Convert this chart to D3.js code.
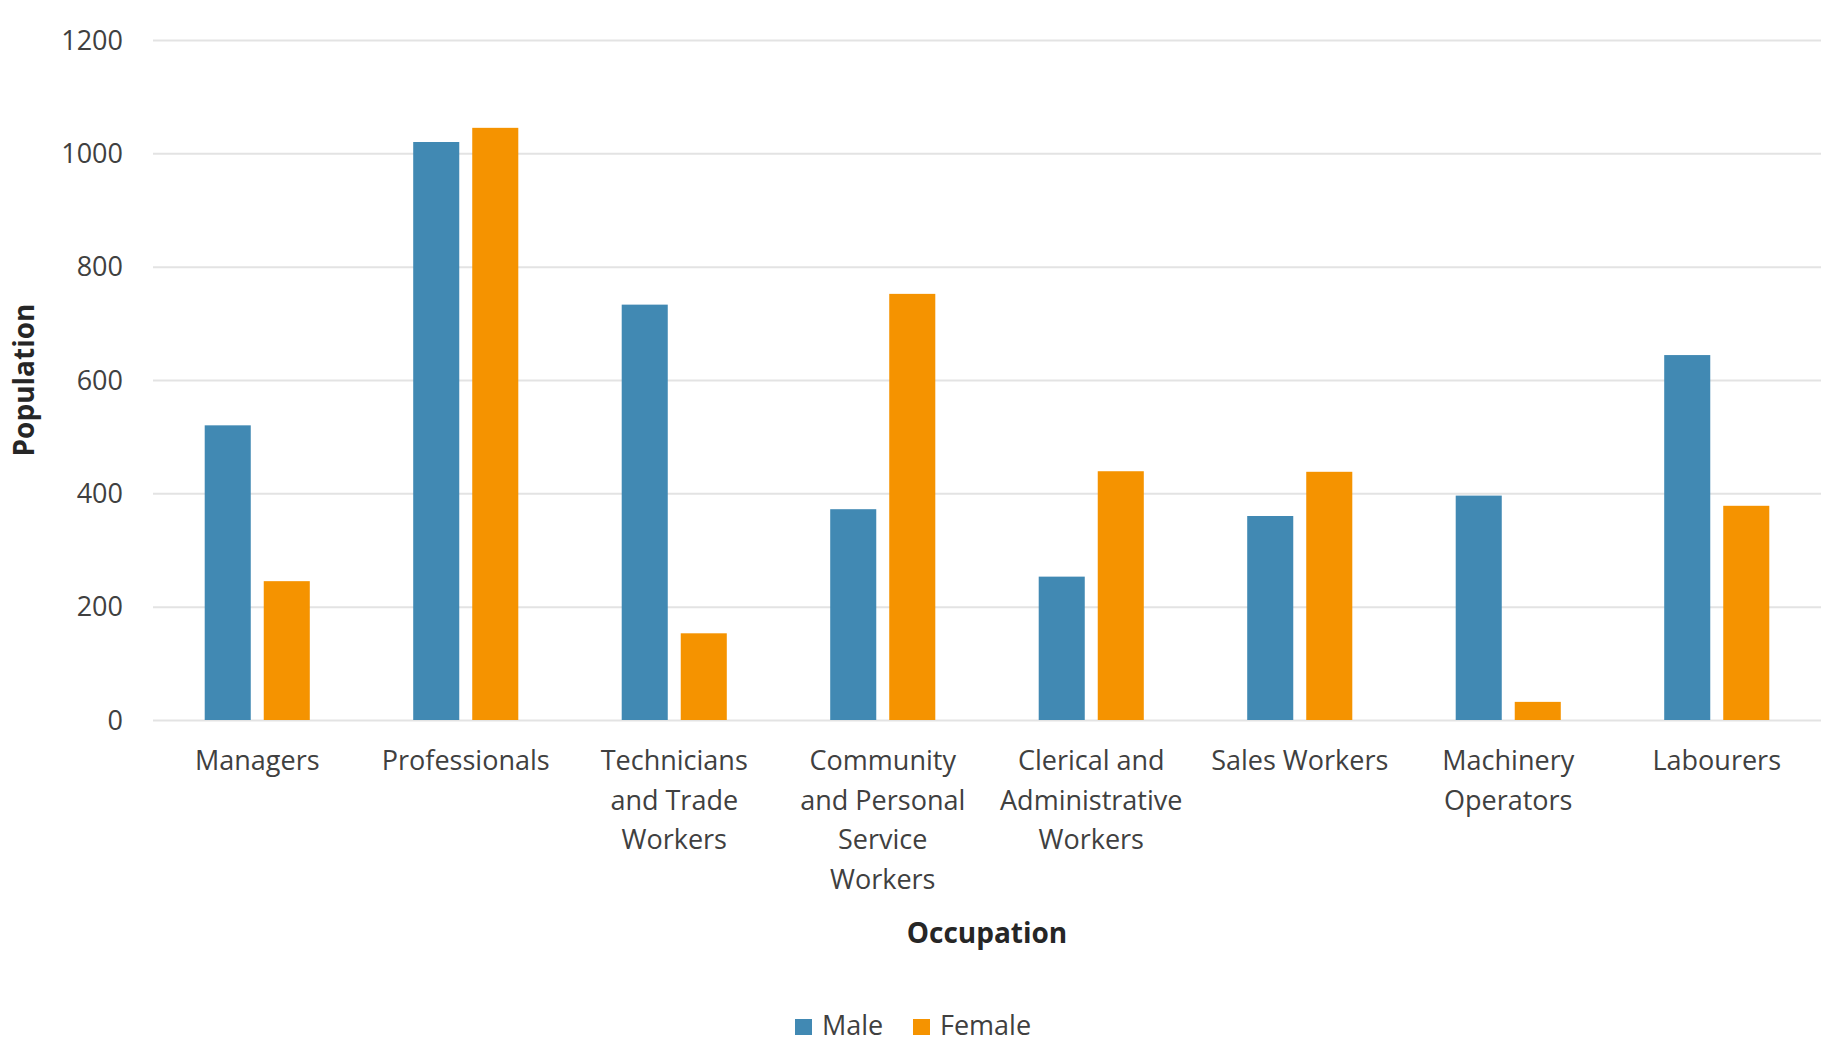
<!DOCTYPE html>
<html>
<head>
<meta charset="utf-8">
<script src="https://cdn.jsdelivr.net/npm/d3@7"></script>
<style>
  body { margin: 0; background: #fff; }
  svg { display: block; font-family: "Open Sans", sans-serif; }
  .tick text { fill: #404040; font-size: 27px; font-family: "Open Sans", sans-serif; }
  .grid line { stroke: #e3e3e3; stroke-width: 2; }
  .title { fill: #262626; font-size: 28px; font-weight: bold; }
  .legend text { fill: #404040; font-size: 27px; }
</style>
</head>
<body>
<svg id="chart"></svg>
<script>
// ---- data ----
const categories = ['Managers', 'Professionals', 'Technicians and Trade Workers',
  'Community and Personal Service Workers', 'Clerical and Administrative Workers',
  'Sales Workers', 'Machinery Operators', 'Labourers'];
const categoryLines = [
  ['Managers'],
  ['Professionals'],
  ['Technicians', 'and Trade', 'Workers'],
  ['Community', 'and Personal', 'Service', 'Workers'],
  ['Clerical and', 'Administrative', 'Workers'],
  ['Sales Workers'],
  ['Machinery', 'Operators'],
  ['Labourers']
];
const series = ['Male', 'Female'];
const male   = [520, 1020, 733, 372, 253, 360, 396, 644];
const female = [245, 1045, 153, 752, 439, 438, 32, 378];
const yTicks = [0, 200, 400, 600, 800, 1000, 1200];
const colors = ['#4189b3', '#f59300'];

const width = 1828, height = 1045;
const margin = {top: 40, right: 7, bottom: 325, left: 153};
const w = width - margin.left - margin.right,
      h = height - margin.top - margin.bottom;

const svg = d3.select('#chart').attr('width', width).attr('height', height);
const g = svg.append('g').attr('transform', `translate(${margin.left},${margin.top})`);

const x = d3.scaleBand().domain(categories).range([0, w]);
const bw = x.bandwidth();
// bar pair sits in the middle half of each band
const x1 = d3.scaleBand().domain(series)
  .range([bw * 0.248, bw * 0.752]).paddingInner(0.22);
const y = d3.scaleLinear().domain([0, 1200]).range([h, 0]);

//-------grid + y labels-------
g.append('g')
  .attr('class', 'grid')
  .call(d3.axisLeft(y).tickValues(yTicks).tickFormat(d3.format('d')).tickSize(-w).tickPadding(30))
  .attr('font-family', null)
  .attr('font-size', null)
  .call(a => a.select('.domain').remove())
  .selectAll('.tick text').attr('dy', '0.34em');

//-------bars-------
const rows = categories.map((c, i) => ({cat: c, vals: [male[i], female[i]]}));
g.selectAll('.group')
  .data(rows)
  .join('g')
    .attr('class', 'group')
    .attr('transform', d => `translate(${x(d.cat)},0)`)
  .selectAll('rect')
  .data(d => d.vals.map((v, k) => ({s: series[k], v, k})))
  .join('rect')
    .attr('x', d => x1(d.s))
    .attr('width', x1.bandwidth())
    .attr('y', d => y(d.v))
    .attr('height', d => h - y(d.v))
    .attr('fill', d => colors[d.k]);

//-------x labels-------
const xl = g.append('g').attr('class', 'xlabels');
categories.forEach((c, i) => {
  const t = xl.append('g').attr('class', 'tick')
    .append('text')
    .attr('text-anchor', 'middle')
    .attr('transform', `translate(${x(c) + bw / 2},${h + 50})`);
  categoryLines[i].forEach((line, j) => {
    t.append('tspan').attr('x', 0).attr('y', j * 39.6).text(line);
  });
});

//-------axis titles-------
svg.append('text')
  .attr('class', 'title')
  .attr('text-anchor', 'middle')
  .attr('transform', `translate(34,${margin.top + h / 2}) rotate(-90)`)
  .text('Population');

svg.append('text')
  .attr('class', 'title')
  .attr('text-anchor', 'middle')
  .attr('x', margin.left + w / 2)
  .attr('y', 943)
  .text('Occupation');

//-------legend-------
const legend = svg.append('g').attr('class', 'legend');
const legendX = [795, 913];
series.forEach((s, k) => {
  const it = legend.append('g').attr('transform', `translate(${legendX[k]},1019)`);
  it.append('rect').attr('width', 17).attr('height', 16).attr('fill', colors[k]);
  it.append('text').attr('x', 27).attr('y', 16).text(s);
});
</script>
</body>
</html>
